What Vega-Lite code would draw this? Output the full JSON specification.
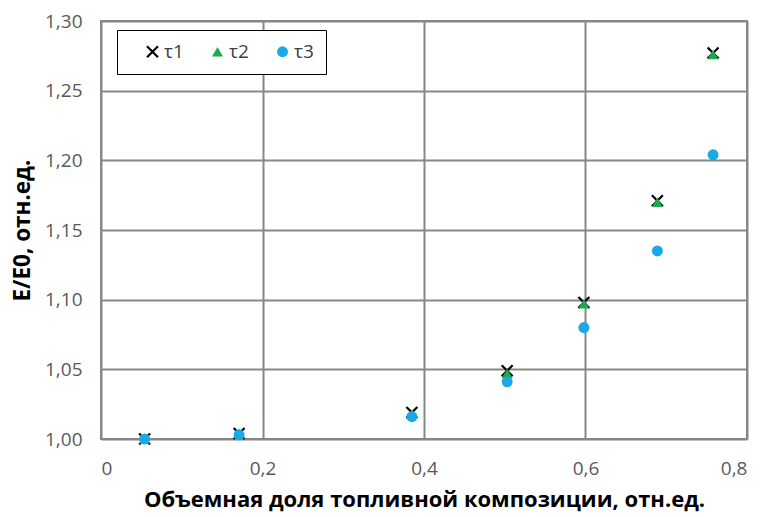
{
  "$schema": "https://vega.github.io/schema/vega-lite/v6.json",
  "width": 646,
  "height": 418,
  "autosize": {"type": "none"},
  "padding": {"left": 101, "top": 21, "right": 16, "bottom": 78},
  "background": "white",
  "config": {
    "locale": {"number": {"decimal": ",", "thousands": " ", "grouping": [3], "currency": ["", ""]}},
    "font": "Open Sans",
    "view": {"stroke": "#878787", "strokeWidth": 2}
  },
  "data": {
    "values": [
      {"x": 0.054, "y": 1.000, "s": "τ1"},
      {"x": 0.171, "y": 1.004, "s": "τ1"},
      {"x": 0.385, "y": 1.019, "s": "τ1"},
      {"x": 0.503, "y": 1.049, "s": "τ1"},
      {"x": 0.598, "y": 1.098, "s": "τ1"},
      {"x": 0.689, "y": 1.171, "s": "τ1"},
      {"x": 0.758, "y": 1.277, "s": "τ1"},
      {"x": 0.054, "y": 1.000, "s": "τ2"},
      {"x": 0.171, "y": 1.004, "s": "τ2"},
      {"x": 0.385, "y": 1.018, "s": "τ2"},
      {"x": 0.503, "y": 1.047, "s": "τ2"},
      {"x": 0.598, "y": 1.097, "s": "τ2"},
      {"x": 0.689, "y": 1.170, "s": "τ2"},
      {"x": 0.758, "y": 1.276, "s": "τ2"},
      {"x": 0.054, "y": 1.000, "s": "τ3"},
      {"x": 0.171, "y": 1.003, "s": "τ3"},
      {"x": 0.385, "y": 1.016, "s": "τ3"},
      {"x": 0.503, "y": 1.041, "s": "τ3"},
      {"x": 0.598, "y": 1.080, "s": "τ3"},
      {"x": 0.689, "y": 1.135, "s": "τ3"},
      {"x": 0.758, "y": 1.204, "s": "τ3"}
    ]
  },
  "mark": {"type": "point", "filled": true, "opacity": 1, "size": 120, "strokeWidth": 2.2},
  "encoding": {
    "x": {
      "field": "x", "type": "quantitative",
      "scale": {"domain": [0, 0.8], "nice": false, "zero": false},
      "axis": {
        "values": [0, 0.2, 0.4, 0.6, 0.8], "format": "~g",
        "title": "Объемная доля топливной композиции, отн.ед.",
        "titleFont": "Open Sans", "titleFontSize": 22, "titleFontWeight": "bold", "titleColor": "#000000",
        "titlePadding": 11,
        "labelFont": "Open Sans", "labelFontSize": 19, "labelColor": "#595959", "labelPadding": 20,
        "ticks": false, "domain": false,
        "grid": true, "gridColor": "#878787", "gridWidth": 2
      }
    },
    "y": {
      "field": "y", "type": "quantitative",
      "scale": {"domain": [1.0, 1.3], "nice": false, "zero": false},
      "axis": {
        "values": [1.0, 1.05, 1.1, 1.15, 1.2, 1.25, 1.3], "format": ".2f",
        "title": "E/E0, отн.ед.",
        "titleFont": "Open Sans", "titleFontSize": 22.5, "titleFontWeight": "bold", "titleColor": "#000000",
        "titlePadding": 10,
        "labelFont": "Open Sans", "labelFontSize": 19, "labelColor": "#595959", "labelPadding": 19,
        "ticks": false, "domain": false,
        "grid": true, "gridColor": "#878787", "gridWidth": 2
      }
    },
    "color": {
      "field": "s", "type": "nominal",
      "scale": {"domain": ["τ1", "τ2", "τ3"], "range": ["#000000", "#1fa84f", "#1aa9e6"]},
      "legend": {
        "orient": "none", "legendX": 16, "legendY": 9, "direction": "horizontal",
        "title": null, "strokeColor": "#000000", "fillColor": "white",
        "padding": 12, "symbolOffset": 14, "columnPadding": 10, "symbolSize": 120,
        "labelFont": "Open Sans", "labelFontSize": 19, "labelColor": "#404040", "labelOffset": 2,
        "symbolStrokeWidth": 2.2,
        "encode": {"legend": {"update": {"strokeWidth": {"value": 2}}}}
      }
    },
    "shape": {
      "field": "s", "type": "nominal",
      "scale": {"domain": ["τ1", "τ2", "τ3"], "range": ["M-1,-1L1,1M-1,1L1,-1", "triangle-up", "circle"]}
    },
    "stroke": {
      "field": "s", "type": "nominal",
      "scale": {"domain": ["τ1", "τ2", "τ3"], "range": ["#000000", "transparent", "transparent"]}
    }
  }
}
